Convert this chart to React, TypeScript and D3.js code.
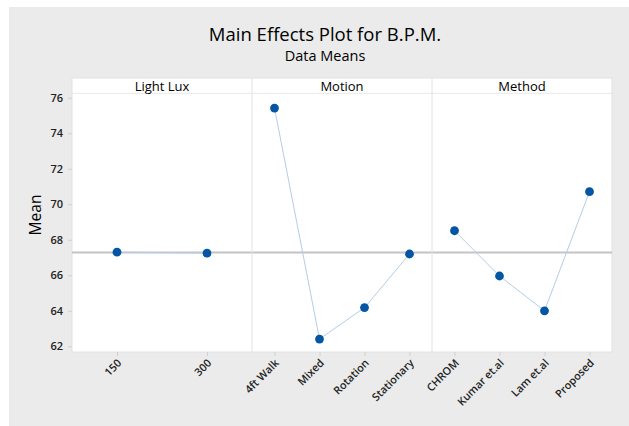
import { useEffect, useRef } from 'react';
import * as d3 from 'd3';

// data
const factorNames = ['Light Lux', 'Motion', 'Method'];
const lightLuxLevels = ['150', '300'];
const lightLuxMeans = [67.3, 67.25];
const motionLevels = ['4ft Walk', 'Mixed', 'Rotation', 'Stationary'];
const motionMeans = [75.42, 62.41, 64.18, 67.2];
const methodLevels = ['CHROM', 'Kumar et.al', 'Lam et.al', 'Proposed'];
const methodMeans = [68.51, 65.96, 64.0, 70.71];
const yTicks = [62, 64, 66, 68, 70, 72, 74, 76];
const grandMean = 67.28;

const W = 629;
const H = 426;
const FONT = '"Open Sans", "Noto Sans", sans-serif';

export default function App() {
  const svgRef = useRef<SVGSVGElement>(null);

  useEffect(() => {
    if (!svgRef.current) return;
    const svg = d3.select(svgRef.current);
    svg.selectAll('*').remove();

    const left = 72, right = 612, top = 78, stripH = 15.3, bottom = 352;
    const panelW = (right - left) / 3;

    // background
    svg.append('rect').attr('width', W).attr('height', H).attr('fill', '#fff');
    svg.append('rect').attr('x', 9).attr('y', 7).attr('width', W - 9).attr('height', H - 7).attr('fill', '#ebebeb');

    // titles
    svg.append('text').attr('x', 325).attr('y', 41).attr('text-anchor', 'middle')
      .style('font-family', FONT).style('font-size', '18.5px').attr('fill', '#000')
      .text('Main Effects Plot for B.P.M.');
    svg.append('text').attr('x', 325).attr('y', 61).attr('text-anchor', 'middle')
      .style('font-family', FONT).style('font-size', '14.5px').attr('fill', '#000')
      .text('Data Means');

    // plot area
    svg.append('rect').attr('x', left).attr('y', top).attr('width', right - left).attr('height', bottom - top)
      .attr('fill', '#fff').attr('stroke', '#e2e2e2').attr('stroke-width', 1);

    const y = d3.scaleLinear().domain([61.68, 76.25]).range([bottom, top + stripH]);

    // y axis
    const yAxis = svg.append('g').attr('transform', `translate(${left},0)`)
      .call(d3.axisLeft(y).tickValues(yTicks).tickSize(4).tickPadding(5));
    yAxis.select('.domain').remove();
    yAxis.selectAll('line').attr('stroke', '#d0d0d0');
    yAxis.selectAll('text').style('font-family', FONT).style('font-size', '11px')
      .style('font-weight', '600').attr('fill', '#222');

    svg.append('text').attr('transform', `translate(41,${(top + bottom) / 2}) rotate(-90)`)
      .attr('text-anchor', 'middle').style('font-family', FONT).style('font-size', '15.5px')
      .attr('fill', '#000').text('Mean');

    // strip line
    svg.append('line').attr('x1', left).attr('x2', right)
      .attr('y1', top + stripH).attr('y2', top + stripH).attr('stroke', '#e8e8e8');

    // reference line at the grand mean
    svg.append('line').attr('x1', left).attr('x2', right)
      .attr('y1', y(grandMean)).attr('y2', y(grandMean))
      .attr('stroke', '#c4c4c4').attr('stroke-width', 2);

    const panels = [
      { levels: lightLuxLevels, means: lightLuxMeans },
      { levels: motionLevels, means: motionMeans },
      { levels: methodLevels, means: methodMeans },
    ];

    panels.forEach((p, i) => {
      const x0 = left + i * panelW;
      if (i > 0) {
        svg.append('line').attr('x1', x0).attr('x2', x0).attr('y1', top).attr('y2', bottom)
          .attr('stroke', '#e2e2e2');
      }
      svg.append('text').attr('x', x0 + panelW / 2).attr('y', top + 12.5)
        .attr('text-anchor', 'middle').style('font-family', FONT).style('font-size', '13px')
        .attr('fill', '#000').text(factorNames[i]);

      const x = d3.scalePoint<string>().domain(p.levels).range([x0, x0 + panelW]).padding(0.5);

      const xAxis = svg.append('g').attr('transform', `translate(0,${bottom})`)
        .call(d3.axisBottom(x).tickSize(4).tickPadding(6));
      xAxis.select('.domain').remove();
      xAxis.selectAll('line').attr('stroke', '#d0d0d0');
      xAxis.selectAll('text')
        .attr('text-anchor', 'end')
        .attr('dy', '0.35em')
        .attr('transform', 'translate(2,9) rotate(-45)')
        .attr('y', 0).attr('x', 0)
        .style('font-family', FONT).style('font-size', '10.8px').style('font-weight', '600')
        .attr('fill', '#222');

      const pts = p.levels.map((l, j) => [x(l) as number, y(p.means[j])] as [number, number]);
      svg.append('path').attr('d', d3.line()(pts)).attr('fill', 'none')
        .attr('stroke', '#b3cde8').attr('stroke-width', 1);
      svg.append('g').selectAll('circle').data(pts).enter().append('circle')
        .attr('cx', d => d[0]).attr('cy', d => d[1]).attr('r', 4.4).attr('fill', '#0455a4');
    });
  }, []);

  return (
    <svg ref={svgRef} width={W} height={H}
      style={{ position: 'absolute', left: 0, top: 0, display: 'block' }} />
  );
}
